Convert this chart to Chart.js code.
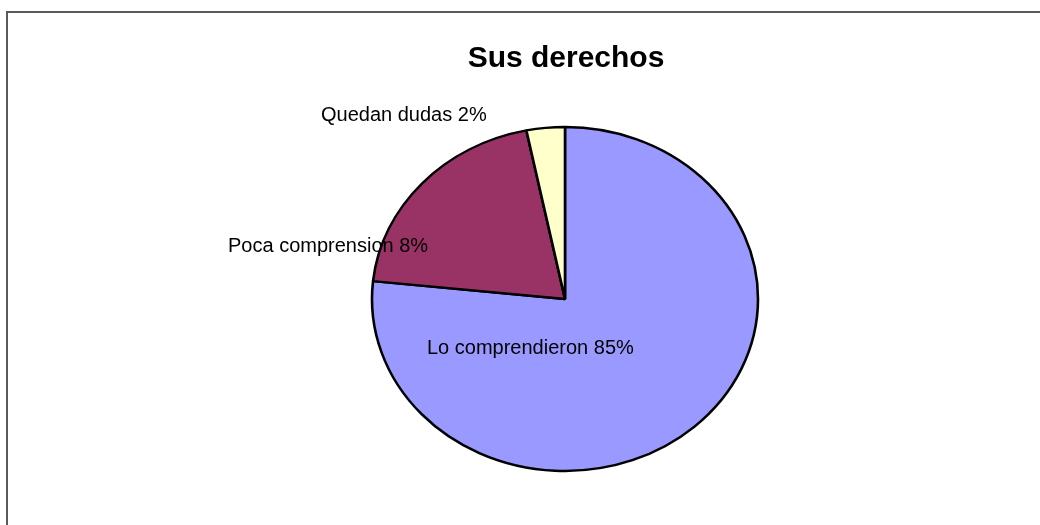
<!DOCTYPE html>
<html>
<head>
<meta charset="utf-8">
<script src="https://cdn.jsdelivr.net/npm/chart.js@4/dist/chart.umd.min.js"></script>
<style>
  html, body { margin: 0; padding: 0; background: #ffffff; }
  #wrap { width: 1040px; height: 525px; position: relative; }
</style>
</head>
<body>
<div id="wrap"><canvas id="c" width="1040" height="525"></canvas></div>
<script>
// ---- data ----
const chartTitle = "Sus derechos";
const categories = ["Lo comprendieron", "Poca comprension", "Quedan dudas"];
const labelTexts = ["Lo comprendieron 85%", "Poca comprension 8%", "Quedan dudas 2%"];
const sliceValues = [76.5, 20.1, 3.2];
const sliceColors = ["#9999FF", "#993366", "#FFFFCC"];

// ---- layout / style (not data) ----
const labelOffsets = [[-138, 55], [-337, -47], [-244, -178]]; // relative to pie centre (left x, baseline y)
const RX = 193, RY = 172;

const framePlugin = {
  id: 'frame',
  beforeDraw(chart) {
    const ctx = chart.ctx;
    ctx.save();
    ctx.fillStyle = '#ffffff';
    ctx.fillRect(0, 0, chart.width, chart.height);
    ctx.strokeStyle = '#5a5a5a';
    ctx.lineWidth = 2;
    ctx.beginPath();
    ctx.moveTo(7, chart.height);
    ctx.lineTo(7, 12);
    ctx.lineTo(chart.width, 12);
    ctx.stroke();
    ctx.restore();
  }
};

const ellipsePlugin = {
  id: 'ellipse',
  beforeDatasetsDraw(chart) {
    const arc = chart.getDatasetMeta(0).data[0];
    const ctx = chart.ctx;
    ctx.save();
    ctx.translate(arc.x, arc.y);
    ctx.scale(1, RY / RX);
    ctx.translate(-arc.x, -arc.y);
  },
  afterDatasetsDraw(chart) {
    chart.ctx.restore();
  }
};

const textPlugin = {
  id: 'texts',
  afterDraw(chart) {
    const ctx = chart.ctx;
    const arc = chart.getDatasetMeta(0).data[0];
    ctx.save();
    ctx.fillStyle = '#000000';
    ctx.font = 'bold 30px "Liberation Sans", Arial, sans-serif';
    ctx.textAlign = 'center';
    ctx.textBaseline = 'alphabetic';
    ctx.fillText(chartTitle, 566, 67);
    ctx.font = '20px "Liberation Sans", Arial, sans-serif';
    ctx.textAlign = 'left';
    labelTexts.forEach((t, i) => {
      ctx.fillText(t, arc.x + labelOffsets[i][0], arc.y + labelOffsets[i][1]);
    });
    ctx.restore();
  }
};

new Chart(document.getElementById('c'), {
  type: 'pie',
  data: {
    labels: categories,
    datasets: [{
      data: sliceValues,
      backgroundColor: sliceColors,
      borderColor: '#000000',
      borderWidth: 2.6,
      clip: false
    }]
  },
  options: {
    responsive: false,
    animation: false,
    radius: RX,
    layout: { padding: { left: 200, right: 110, top: 100, bottom: 27 } },
    plugins: {
      legend: { display: false },
      title: { display: false },
      tooltip: { enabled: false }
    }
  },
  plugins: [framePlugin, ellipsePlugin, textPlugin]
});
</script>
</body>
</html>
